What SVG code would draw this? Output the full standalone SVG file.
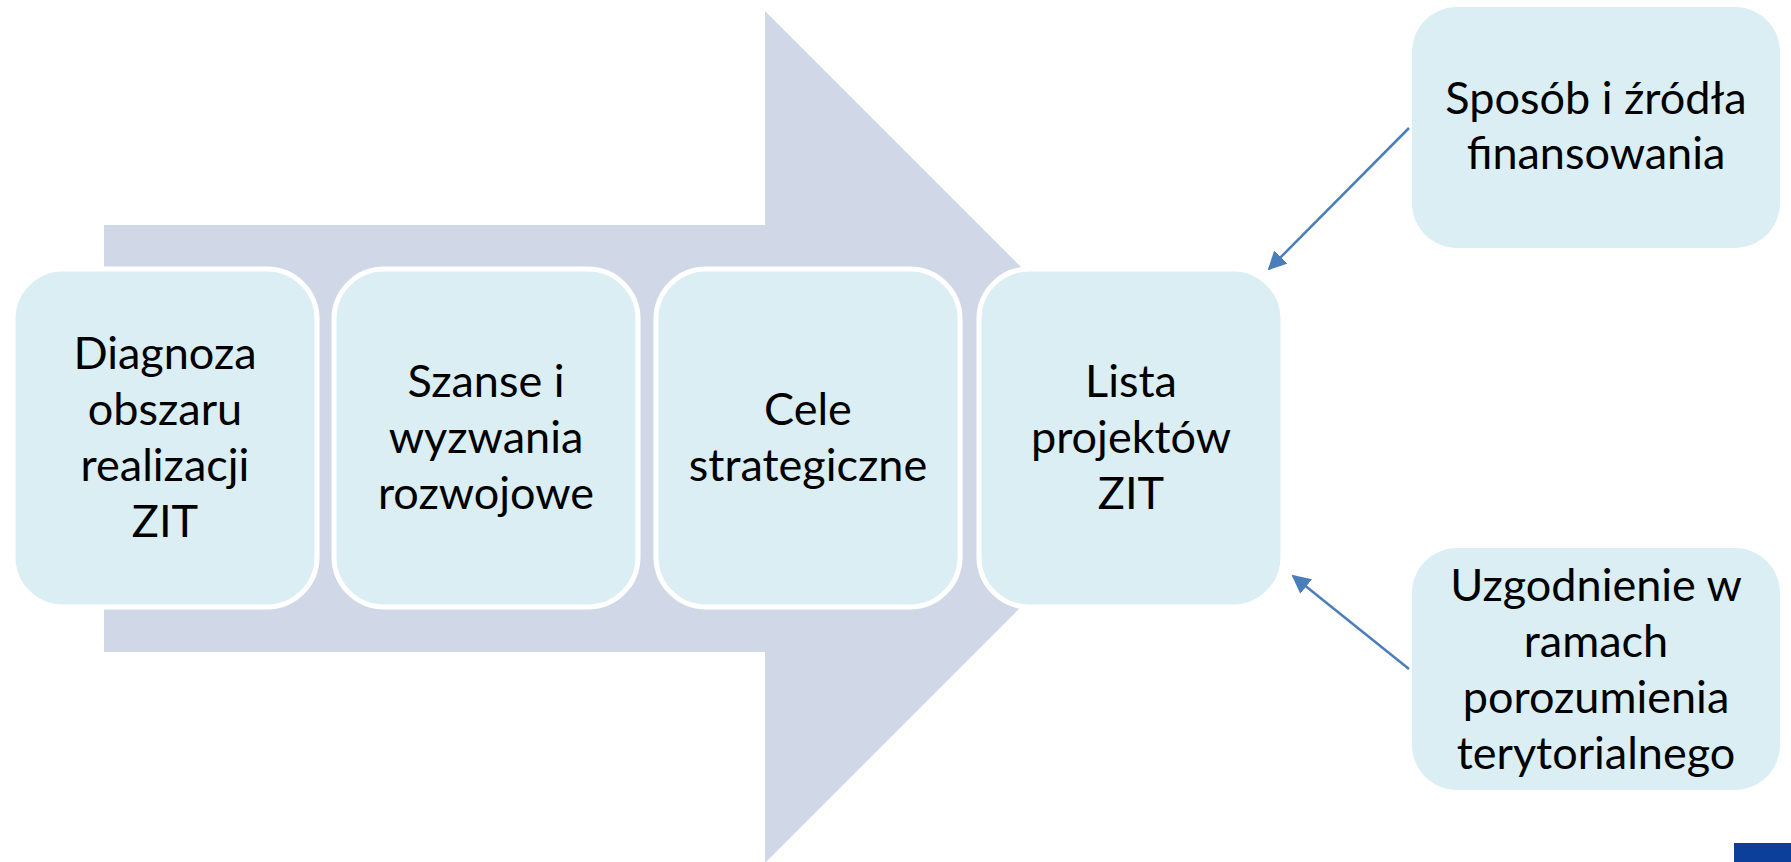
<svg xmlns="http://www.w3.org/2000/svg" width="1791" height="862" viewBox="0 0 1791 862">
  <defs>
    <style>
      .box { fill: #DAEEF3; stroke: #FFFFFF; stroke-width: 5; }
      .side { fill: #DAEEF3; }
      .lbl { font-family: Lato, "Open Sans", "Liberation Sans", sans-serif; font-size: 45px; fill: #000000; text-anchor: middle; }
      .conn { stroke: #4A7EBB; stroke-width: 2.5; fill: none; marker-end: url(#arr); }
    </style>
    <marker id="arr" viewBox="0 0 10 10" refX="9" refY="5" markerWidth="7.5" markerHeight="7.5" markerUnits="strokeWidth" orient="auto">
      <path d="M0,0 L10,5 L0,10 z" fill="#4A7EBB"/>
    </marker>
  </defs>
  <rect width="1791" height="862" fill="#FFFFFF"/>
  <g id="big-arrow">
    <polygon points="104,225 765,225 765,11 1191,437 765,863 765,652 104,652" fill="#D0D8E8"/>
  </g>
  <g id="node-diagnoza">
    <rect class="box" x="13" y="269" width="304" height="338" rx="50"/>
    <text class="lbl" x="165"><tspan x="165" y="369">Diagnoza</tspan><tspan x="165" y="425">obszaru</tspan><tspan x="165" y="481">realizacji</tspan><tspan x="165" y="537">ZIT</tspan></text>
  </g>
  <g id="node-szanse">
    <rect class="box" x="334" y="269" width="304" height="338" rx="50"/>
    <text class="lbl" x="486"><tspan x="486" y="397">Szanse i</tspan><tspan x="486" y="453">wyzwania</tspan><tspan x="486" y="509">rozwojowe</tspan></text>
  </g>
  <g id="node-cele">
    <rect class="box" x="656" y="269" width="304" height="338" rx="50"/>
    <text class="lbl" x="808"><tspan x="808" y="425">Cele</tspan><tspan x="808" y="481">strategiczne</tspan></text>
  </g>
  <g id="node-lista">
    <rect class="box" x="979" y="269" width="304" height="338" rx="50"/>
    <text class="lbl" x="1131"><tspan x="1131" y="397">Lista</tspan><tspan x="1131" y="453">projektów</tspan><tspan x="1131" y="509">ZIT</tspan></text>
  </g>
  <g id="node-sposob">
    <rect class="side" x="1412" y="7" width="368" height="241" rx="45"/>
    <text class="lbl" x="1596"><tspan x="1596" y="114">Sposób i źródła</tspan><tspan x="1596" y="169">finansowania</tspan></text>
  </g>
  <g id="node-uzgodnienie">
    <rect class="side" x="1412" y="548" width="368" height="242" rx="45"/>
    <text class="lbl" x="1596"><tspan x="1596" y="601">Uzgodnienie w</tspan><tspan x="1596" y="657">ramach</tspan><tspan x="1596" y="713">porozumienia</tspan><tspan x="1596" y="769">terytorialnego</tspan></text>
  </g>
  <g id="connectors">
    <line class="conn" x1="1409" y1="128" x2="1269" y2="269"/>
    <line class="conn" x1="1409" y1="669" x2="1293" y2="576"/>
  </g>
  <rect x="1734" y="843" width="57" height="19" fill="#0B3F9A"/>
</svg>
